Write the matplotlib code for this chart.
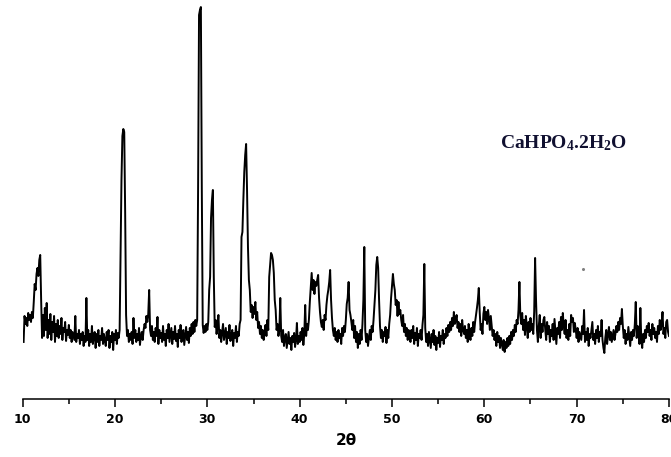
import numpy as np
import matplotlib.pyplot as plt

# ============================================================
# Data (0.1 deg steps from 10.1 to 80.0)
# ============================================================

two_theta = np.round(np.arange(10.1, 80.05, 0.1), 1)

intensity = np.array([
    18, 44, 36, 42, 34, 47, 40, 45, 38,                 # 10.1-10.9
    48, 42, 58, 76, 70, 86, 92, 84, 100, 105,           # 11
    60, 22, 45, 24, 52, 30, 57, 22, 40, 26,             # 12
    46, 20, 38, 28, 44, 18, 36, 24, 40, 22,             # 13
    34, 26, 42, 20, 32, 28, 38, 19, 30, 25,             # 14
    35, 22, 30, 18, 28, 24, 20, 44, 18, 26,             # 15
    22, 30, 16, 26, 20, 28, 14, 24, 18, 62,             # 16
    20, 30, 14, 26, 18, 34, 16, 24, 28, 12,             # 17
    26, 18, 30, 14, 24, 20, 32, 16, 26, 19,             # 18
    14, 28, 20, 30, 12, 24, 18, 28, 10, 26,             # 19
    20, 30, 16, 27, 22, 30, 107, 180, 224, 231,         # 20
    228, 147, 45, 24, 30, 18, 26, 20, 28, 16,           # 21
    42, 22, 30, 18, 26, 20, 32, 15, 24, 28,             # 22
    20, 30, 36, 32, 44, 38, 46, 70, 30, 24,             # 23
    34, 20, 28, 18, 32, 24, 43, 16, 30, 22,             # 24
    27, 18, 34, 20, 26, 14, 30, 22, 36, 18,             # 25
    25, 32, 16, 28, 21, 34, 19, 26, 13, 30,             # 26
    22, 35, 18, 27, 30, 15, 24, 33, 20, 28,             # 27
    17, 32, 24, 36, 26, 38, 28, 40, 34, 40,             # 28
    173, 345, 350, 353, 172, 35, 27, 34, 28, 36,        # 29
    30, 38, 70, 83, 142, 160, 170, 83, 33, 40,          # 30
    26, 34, 45, 22, 30, 18, 28, 36, 20, 26,             # 31
    32, 16, 28, 22, 35, 19, 24, 30, 14, 27,             # 32
    22, 34, 18, 28, 24, 36, 40, 123, 128, 160,          # 33
    188, 205, 216, 170, 113, 80, 70, 48, 55, 42,        # 34
    53, 46, 58, 40, 48, 32, 38, 26, 34, 22,             # 35
    30, 20, 27, 35, 24, 40, 30, 83, 95, 107,            # 36
    105, 100, 87, 60, 50, 30, 36, 24, 30, 62,           # 37
    24, 18, 30, 14, 22, 26, 12, 20, 28, 16,             # 38
    22, 10, 24, 18, 27, 13, 20, 37, 16, 24,             # 39
    18, 28, 20, 32, 15, 26, 55, 24, 36, 30,             # 40
    40, 58, 72, 87, 70, 80, 66, 78, 74, 80,             # 41
    85, 62, 48, 38, 33, 40, 30, 45, 40, 55,             # 42
    64, 70, 78, 90, 60, 42, 30, 24, 32, 20,             # 43
    28, 18, 30, 22, 26, 16, 32, 24, 34, 28,             # 44
    40, 56, 62, 78, 50, 45, 38, 30, 40, 22,             # 45
    34, 18, 28, 12, 26, 16, 30, 20, 36, 60,             # 46
    113, 30, 18, 26, 14, 22, 30, 20, 34, 28,            # 47
    40, 55, 70, 95, 103, 92, 60, 34, 22, 30,            # 48
    18, 28, 24, 33, 17, 30, 22, 36, 45, 62,             # 49
    74, 86, 76, 70, 55, 60, 44, 58, 46, 50,             # 50
    40, 34, 45, 28, 36, 24, 32, 20, 30, 26,             # 51
    18, 30, 22, 34, 16, 27, 20, 32, 14, 26,             # 52
    22, 30, 20, 35, 45, 96, 32, 18, 26, 14,             # 53
    28, 20, 12, 26, 18, 30, 15, 24, 10, 22,             # 54
    17, 28, 13, 24, 20, 30, 16, 26, 22, 32,             # 55
    24, 35, 28, 38, 30, 42, 34, 48, 36, 40,             # 56
    45, 32, 38, 28, 36, 24, 40, 30, 26, 34,             # 57
    22, 30, 18, 36, 26, 20, 32, 24, 38, 28,             # 58
    38, 45, 52, 60, 72, 48, 30, 36, 26, 46,             # 59
    53, 40, 48, 36, 50, 42, 30, 44, 34, 24,             # 60
    30, 20, 26, 14, 28, 18, 24, 12, 22, 16,             # 61
    10, 20, 8, 18, 12, 22, 14, 24, 16, 28,              # 62
    20, 30, 24, 35, 28, 40, 36, 50, 78, 44,             # 63
    36, 47, 30, 40, 25, 44, 34, 22, 38, 28,             # 64
    42, 30, 36, 26, 48, 102, 60, 30, 18, 34,            # 65
    45, 22, 36, 28, 40, 43, 30, 20, 38, 26,             # 66
    34, 18, 30, 24, 36, 20, 41, 28, 16, 32,             # 67
    26, 38, 22, 43, 30, 47, 34, 26, 40, 22,             # 68
    30, 20, 36, 24, 45, 38, 42, 28, 37, 30,             # 69
    22, 32, 18, 28, 24, 20, 34, 26, 50, 18,             # 70
    28, 20, 32, 14, 26, 22, 30, 38, 20, 26,             # 71
    16, 30, 22, 34, 18, 28, 24, 40, 20, 12,             # 72
    7, 22, 30, 16, 26, 33, 20, 28, 18, 24,              # 73
    30, 20, 26, 34, 28, 38, 30, 42, 36, 51,             # 74
    34, 22, 30, 16, 26, 20, 33, 24, 14, 28,             # 75
    20, 30, 24, 36, 58, 22, 34, 28, 16, 52,             # 76
    20, 12, 26, 18, 30, 22, 34, 28, 37, 24,             # 77
    30, 20, 36, 26, 32, 22, 28, 18, 34, 26,             # 78
    40, 30, 36, 48, 26, 32, 22, 38, 40, 28,             # 79
    24,                                                 # 80.0
])

# stray speck in the scan picture
speck_x = [70.7]
speck_y = [91]

sample_label = r"CaHPO$_4$.2H$_2$O"
x_ticks = [10, 20, 30, 40, 50, 60, 70, 80]

# ============================================================
# Plot
# ============================================================

plt.rcParams['mathtext.fontset'] = 'custom'
plt.rcParams['mathtext.rm'] = 'Liberation Serif:bold'
plt.rcParams['mathtext.it'] = 'Liberation Serif:bold'
plt.rcParams['mathtext.bf'] = 'Liberation Serif:bold'

fig = plt.figure(figsize=(6.71, 4.57), dpi=100)
ax = fig.add_axes([0.0338, 0.127, 0.9632, 0.873])

ax.plot(two_theta, intensity, color="black", lw=1.4)
ax.plot(speck_x, speck_y, 'o', color="gray", ms=1.2)

ax.set_xlim(10, 80)
ax.set_ylim(-39, 360)

for side in ["left", "right", "top"]:
    ax.spines[side].set_visible(False)
ax.spines["bottom"].set_linewidth(1.1)

ax.set_yticks([])
ax.set_xticks(x_ticks)
ax.set_xticks(np.arange(15, 80, 10), minor=True)
ax.tick_params(axis="x", which="major", length=5.8, width=1.1,
               pad=4, labelsize=9)
ax.tick_params(axis="x", which="minor", length=3.6, width=1.1)
for lab in ax.get_xticklabels():
    lab.set_fontweight("bold")

ax.set_xlabel("2θ", fontsize=11, fontweight="bold", labelpad=5)

# label placed in figure pixels (origin bottom-left)
ax.text(563, 457 - 143, sample_label, transform=None, fontsize=14,
        fontweight="bold", family="Liberation Serif", color="#101030",
        ha="center", va="center")

fig.savefig("out.png", dpi=100)
